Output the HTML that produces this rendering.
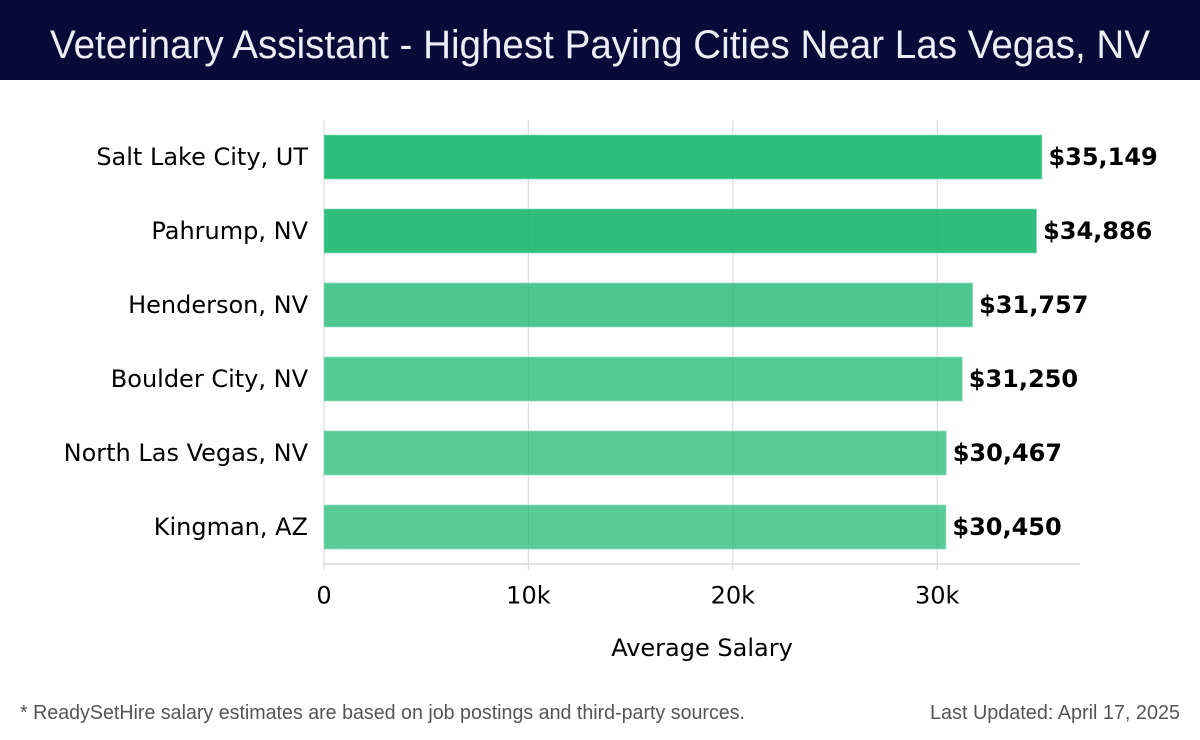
<!DOCTYPE html>
<html>
<head>
<meta charset="utf-8">
<title>Veterinary Assistant - Highest Paying Cities Near Las Vegas, NV</title>
<style>
html,body{margin:0;padding:0;background:#fff;width:1200px;height:740px;overflow:hidden}
svg{display:block}
.lab{font-family:"DejaVu Sans",sans-serif;fill:#000}
.ub{font-family:"Liberation Sans",sans-serif}
</style>
</head>
<body>
<svg id="chart" width="1200" height="740" viewBox="0 0 1200 740" xmlns="http://www.w3.org/2000/svg">
  <rect x="0" y="0" width="1200" height="80" fill="#080a38"/>
  <text class="ub" x="600" y="58" text-anchor="middle" font-size="40" fill="#eceef4" textLength="1100" lengthAdjust="spacingAndGlyphs">Veterinary Assistant - Highest Paying Cities Near Las Vegas, NV</text>
  <g id="plot"></g>
  <text class="lab" x="702" y="656" text-anchor="middle" font-size="24">Average Salary</text>
  <text class="ub" x="20" y="719" font-size="20" fill="#555" textLength="725" lengthAdjust="spacingAndGlyphs">* ReadySetHire salary estimates are based on job postings and third-party sources.</text>
  <text class="ub" x="1180" y="719" text-anchor="end" font-size="20" fill="#555" textLength="250" lengthAdjust="spacingAndGlyphs">Last Updated: April 17, 2025</text>
</svg>
<script>
const categories = ["Salt Lake City, UT", "Pahrump, NV", "Henderson, NV", "Boulder City, NV", "North Las Vegas, NV", "Kingman, AZ"];
const salaries = [35149, 34886, 31757, 31250, 30467, 30450];
const valueLabels = ["$35,149", "$34,886", "$31,757", "$31,250", "$30,467", "$30,450"];
const xTicks = [0, 10000, 20000, 30000];
const xTickLabels = ["0", "10k", "20k", "30k"];

const NS = "http://www.w3.org/2000/svg";
const plot = document.getElementById("plot");
const left = 324, right = 1080, top_ = 120, bottom = 564;
const pxPerUnit = 204.4 / 10000;
const bandH = (bottom - top_) / categories.length;
const barH = 44;
function xScale(v) { return left + v * pxPerUnit; }
function yBand(i) { return top_ + i * bandH + bandH / 2; }
function barOpacity(v) {
  const maxV = Math.max.apply(null, salaries);
  const minV = Math.min.apply(null, salaries);
  const t = (v - minV) / Math.max(1, maxV - minV);
  return 0.72 + 0.2 * t;
}
function make(tag, attrs, parent) {
  const el = document.createElementNS(NS, tag);
  for (const k in attrs) el.setAttribute(k, attrs[k]);
  parent.appendChild(el);
  return el;
}

xTicks.forEach(function (t, i) {
  const g = make("line", { x1: xScale(t), x2: xScale(t), y1: top_, y2: bottom + 6, stroke: "#dcdcdc", "stroke-width": 1.2 }, plot);
  
  
  const lab = make("text", { x: xScale(t), y: 603.5, "text-anchor": "middle", "font-size": 24, class: "lab" }, plot);
  lab.textContent = xTickLabels[i];
  
  
});

const axisLine = make("line", { x1: left, x2: right, y1: bottom, y2: bottom, stroke: "#d0d0d0", "stroke-width": 1.2 }, plot);



categories.forEach(function (c, i) {
  const y = yBand(i);
  const bar = make("rect", {
    x: xScale(0), y: y - barH / 2, width: xScale(salaries[i]) - xScale(0) - 0.5, height: barH,
    fill: "#1ab76f", "fill-opacity": barOpacity(salaries[i]),
    stroke: "#8fe0bd", "stroke-width": 1, "stroke-opacity": 0.7
  }, plot);
  
  

  const cat = make("text", { x: 308, y: y + 8, "text-anchor": "end", "font-size": 24, class: "lab" }, plot);
  cat.textContent = c;
  
  

  const val = make("text", { x: xScale(salaries[i]) + 6, y: y + 8, "font-size": 24, "font-weight": "bold", class: "lab" }, plot);
  val.textContent = valueLabels[i];
  
  
});
</script>
</body>
</html>
